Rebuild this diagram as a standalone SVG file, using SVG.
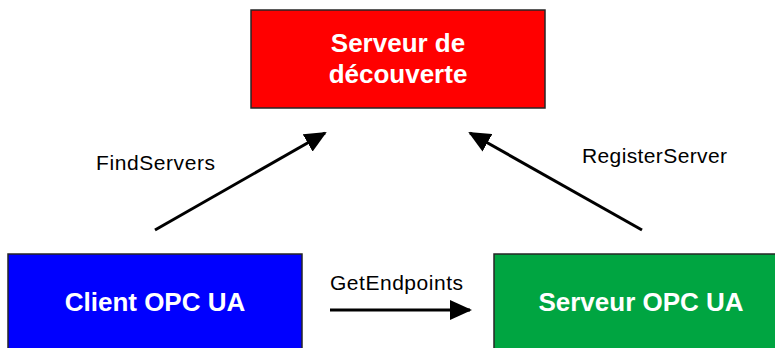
<svg xmlns="http://www.w3.org/2000/svg" width="775" height="348" viewBox="0 0 775 348">
  <style>
    .box { stroke: #262626; stroke-width: 1.5; }
    .title { font-family: "Liberation Sans", Arial, sans-serif; font-weight: bold; font-size: 26px; fill: #ffffff; text-anchor: middle; }
    .lbl { font-family: "Liberation Sans", Arial, sans-serif; font-size: 21px; fill: #000000; }
    .conn { stroke: #000000; stroke-width: 3; fill: none; marker-end: url(#arr); }
  </style>
  <defs>
    <marker id="arr" markerUnits="userSpaceOnUse" markerWidth="22" markerHeight="20" refX="20" refY="10" orient="auto">
      <path d="M0,0 L22,10 L0,20 Z" fill="#000000"/>
    </marker>
  </defs>
  <rect width="775" height="348" fill="#ffffff"/>
  <g id="discovery">
    <rect class="box" x="251" y="10" width="294" height="98" fill="#ff0000"/>
    <text class="title" x="398" y="52">Serveur de</text>
    <text class="title" x="398" y="83">découverte</text>
  </g>
  <g id="client">
    <rect class="box" x="8" y="254" width="294" height="100" fill="#0000ff"/>
    <text class="title" x="155" y="311">Client OPC UA</text>
  </g>
  <g id="server">
    <rect class="box" x="494" y="254" width="294" height="100" fill="#00a541"/>
    <text class="title" x="641" y="311">Serveur OPC UA</text>
  </g>
  <g id="connectors">
    <line class="conn" x1="155" y1="230" x2="325" y2="133"/>
    <line class="conn" x1="642" y1="230" x2="470" y2="133"/>
    <line class="conn" x1="330" y1="310" x2="470" y2="310"/>
    <text class="lbl" x="96" y="170" textLength="119">FindServers</text>
    <text class="lbl" x="582" y="163" textLength="145">RegisterServer</text>
    <text class="lbl" x="330" y="290" textLength="133">GetEndpoints</text>
  </g>
</svg>
